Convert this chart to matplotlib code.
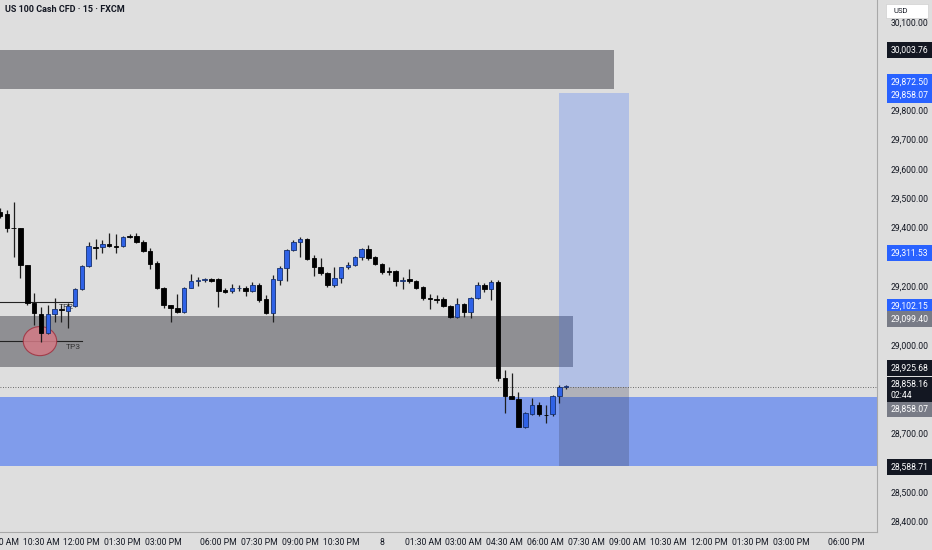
import numpy as np
import matplotlib.pyplot as plt
from matplotlib.patches import Rectangle, Ellipse

plt.rcParams['font.family'] = ['Roboto', 'DejaVu Sans']

# 15 minute candles, US100
opens = [29453, 29446, 29399, 29398, 29272, 29143, 29105, 29041, 29105, 29123,
         29116, 29133, 29190, 29269, 29334, 29334, 29344, 29337, 29337, 29371,
         29371, 29350, 29320, 29279, 29194, 29136, 29126, 29112, 29194, 29220,
         29221, 29224, 29224, 29187, 29184, 29193, 29194, 29184, 29204, 29156,
         29109, 29221, 29262, 29323, 29350, 29361, 29296, 29265, 29245, 29204,
         29228, 29265, 29272, 29299, 29327, 29299, 29276, 29252, 29252, 29220,
         29224, 29218, 29197, 29160, 29156, 29156, 29133, 29095, 29139, 29112,
         29160, 29204, 29190, 29214, 28887, 28826, 28816, 28721, 28765, 28795,
         28762, 28765, 28826, 28857]
highs = [29466, 29460, 29487, 29399, 29273, 29177, 29129, 29136, 29160, 29136,
         29143, 29194, 29272, 29350, 29361, 29357, 29381, 29378, 29371, 29378,
         29381, 29357, 29330, 29286, 29197, 29137, 29173, 29197, 29241, 29231,
         29228, 29228, 29228, 29194, 29207, 29204, 29201, 29214, 29211, 29170,
         29238, 29269, 29326, 29357, 29368, 29364, 29306, 29296, 29248, 29265,
         29266, 29282, 29303, 29330, 29340, 29303, 29279, 29265, 29255, 29231,
         29259, 29221, 29201, 29173, 29170, 29163, 29136, 29160, 29143, 29163,
         29214, 29211, 29221, 29221, 28915, 28905, 28840, 28771, 28819, 28806,
         28795, 28829, 28864, 28864]
lows = [29432, 29385, 29300, 29228, 29136, 29068, 29010, 29037, 29078, 29078,
        29058, 29129, 29187, 29265, 29293, 29313, 29333, 29313, 29333, 29364,
        29347, 29316, 29259, 29190, 29126, 29078, 29109, 29109, 29193, 29201,
        29214, 29214, 29129, 29177, 29177, 29184, 29166, 29180, 29146, 29105,
        29078, 29204, 29218, 29320, 29299, 29289, 29235, 29238, 29197, 29197,
        29211, 29258, 29269, 29289, 29289, 29272, 29241, 29238, 29201, 29190,
        29211, 29190, 29153, 29122, 29143, 29129, 29092, 29092, 29095, 29092,
        29156, 29180, 29153, 28877, 28768, 28815, 28719, 28717, 28761, 28758,
        28734, 28758, 28802, 28850]
closes = [29439, 29398, 29397, 29272, 29143, 29109, 29041, 29105, 29122, 29120,
          29133, 29190, 29269, 29337, 29330, 29344, 29337, 29336, 29367, 29367,
          29350, 29320, 29276, 29194, 29136, 29126, 29112, 29194, 29218, 29221,
          29222, 29218, 29184, 29180, 29194, 29195, 29184, 29204, 29153, 29109,
          29224, 29262, 29323, 29350, 29361, 29293, 29265, 29245, 29204, 29228,
          29265, 29272, 29299, 29327, 29296, 29276, 29248, 29251, 29218, 29221,
          29218, 29194, 29160, 29156, 29155, 29133, 29095, 29139, 29112, 29160,
          29204, 29190, 29214, 28887, 28826, 28816, 28721, 28768, 28795, 28765,
          28761, 28826, 28857, 28858.16]

tick_pos = [0, 6, 12, 18, 24, 32, 38, 44, 50, 56, 62, 68, 74, 80, 86, 92, 98, 104, 110, 116, 124]
tick_lab = ['09:00 AM', '10:30 AM', '12:00 PM', '01:30 PM', '03:00 PM', '06:00 PM', '07:30 PM',
            '09:00 PM', '10:30 PM', '8', '01:30 AM', '03:00 AM', '04:30 AM', '06:00 AM',
            '07:30 AM', '09:00 AM', '10:30 AM', '12:00 PM', '01:30 PM', '03:00 PM', '06:00 PM']
# price scale ticks that are not hidden behind a price tag
price_ticks = [28400, 28500, 28700, 29000, 29200, 29400, 29500, 29600, 29700, 29800, 30100]

# zones drawn on the chart
top_zone = (30003.76, 29872.50)
mid_zone = (29099.40, 28925.68)
low_zone = (28823.0, 28588.71)
entry, target, stop = 28858.07, 29858.07, 28588.71
tp2, tp3 = 29146, 29013

bg = '#dedede'
fig = plt.figure(figsize=(9.32, 5.5), dpi=100, facecolor=bg)
ax = fig.add_axes([0, 18 / 550, 877 / 932, 532 / 550], facecolor=bg)

# zones
ax.add_patch(Rectangle((-5, top_zone[1]), 95, top_zone[0] - top_zone[1], fc='#8c8c90', ec='none', zorder=1))
ax.add_patch(Rectangle((-5, mid_zone[1]), 89, mid_zone[0] - mid_zone[1], fc='#8f8f93', ec='none', zorder=1))
ax.add_patch(Rectangle((-5, low_zone[1]), 140, low_zone[0] - low_zone[1], fc='#809ceb', ec='none', zorder=1))
# long position tool
ax.add_patch(Rectangle((82, entry), 10.25, target - entry, fc='#2962ff', alpha=0.24, ec='none', zorder=1.2))
ax.add_patch(Rectangle((82, stop), 10.25, entry - stop, fc='#3a3f5a', alpha=0.28, ec='none', zorder=1.2))

# target lines + marker
ax.plot([-5, 10.7], [tp2, tp2], color='#222222', lw=0.8, zorder=1.5)
ax.plot([-5, 12.0], [tp3, tp3], color='#222222', lw=0.8, zorder=1.5)
ax.text(8.6, tp2 - 18, 'TP2', fontsize=6, color='#333333', va='center', zorder=1.5)
ax.text(9.6, tp3 - 20, 'TP3', fontsize=6, color='#333333', va='center', zorder=1.5)
ax.add_patch(Ellipse((5.86, tp3), 4.9, 99, fc='#d37a86', ec='#a0303f', lw=0.8, alpha=0.85, zorder=1.6))

# candles
x = np.arange(len(opens))
for i in x:
    o, h, l, c = opens[i], highs[i], lows[i], closes[i]
    up = c > o
    ax.vlines(i, l, h, color='#1e1e1e', lw=0.9, zorder=3)
    lo, hi = min(o, c), max(o, c)
    if hi - lo < 3:
        lo, hi = (lo + hi) / 2 - 1.5, (lo + hi) / 2 + 1.5
    ax.add_patch(Rectangle((i - 0.33, lo), 0.66, hi - lo,
                           fc='#2f62e6' if up else '#000000',
                           ec='#16306e' if up else '#000000', lw=0.6, zorder=4))

ax.axhline(closes[-1], color='#444444', lw=0.6, ls=(0, (1, 2)), zorder=2)

ax.set_xlim(0.146, 128.55)
ax.set_ylim(28363, 30174.5)

ax.set_xticks(tick_pos)
ax.set_xticklabels(tick_lab)
ax.set_yticks(price_ticks)
ax.set_yticklabels(['{:,.2f}'.format(v) for v in price_ticks])
ax.yaxis.tick_right()
ax.tick_params(axis='y', length=0, pad=10, labelsize=6.2, labelcolor='#131722')
ax.tick_params(axis='x', length=0, pad=4, labelsize=6.2, labelcolor='#131722')
for s in ['top', 'left']:
    ax.spines[s].set_visible(False)
for s in ['right', 'bottom']:
    ax.spines[s].set_color('#a8a8a8')
    ax.spines[s].set_linewidth(0.8)

# price labels on the scale
def price_tag(v, fc, dy=0, txt=None):
    ax.annotate(txt or '{:,.2f}'.format(v), xy=(1, v), xycoords=ax.get_yaxis_transform(),
                xytext=(10, dy), textcoords='offset points', ha='left', va='center',
                fontsize=6.2, color='white', annotation_clip=False, linespacing=1.3,
                bbox=dict(boxstyle='square,pad=0.4', fc=fc, ec='none'), zorder=6)

price_tag(top_zone[0], '#131722')
price_tag(top_zone[1], '#2962ff', dy=4.5)
price_tag(target, '#2962ff', dy=-1.5)
price_tag(29311.53, '#2962ff')
price_tag(29102.15, '#2962ff', dy=6)
price_tag(mid_zone[0], '#787b86', dy=-2.5)
price_tag(mid_zone[1], '#131722', dy=-1)
price_tag(closes[-1], '#131722', dy=-2.5, txt='28,858.16\n02:44')
price_tag(entry, '#787b86', dy=-16.5)
price_tag(stop, '#131722', dy=-1)

fig.text(5 / 932, 1 - 10 / 550, 'US 100 Cash CFD · 15 · FXCM', fontsize=6.5, fontweight='bold',
         color='#131722', va='center', ha='left')
fig.patches.append(Rectangle((886 / 932, 1 - 18 / 550), 42 / 932, 14 / 550, transform=fig.transFigure,
                             fc='white', ec='#d0d0d0', lw=0.5, zorder=7))
fig.text(893 / 932, 1 - 11 / 550, 'USD', fontsize=5.5, color='#131722', va='center', ha='left', zorder=8)

fig.savefig('out.png', dpi=100, facecolor=bg)
